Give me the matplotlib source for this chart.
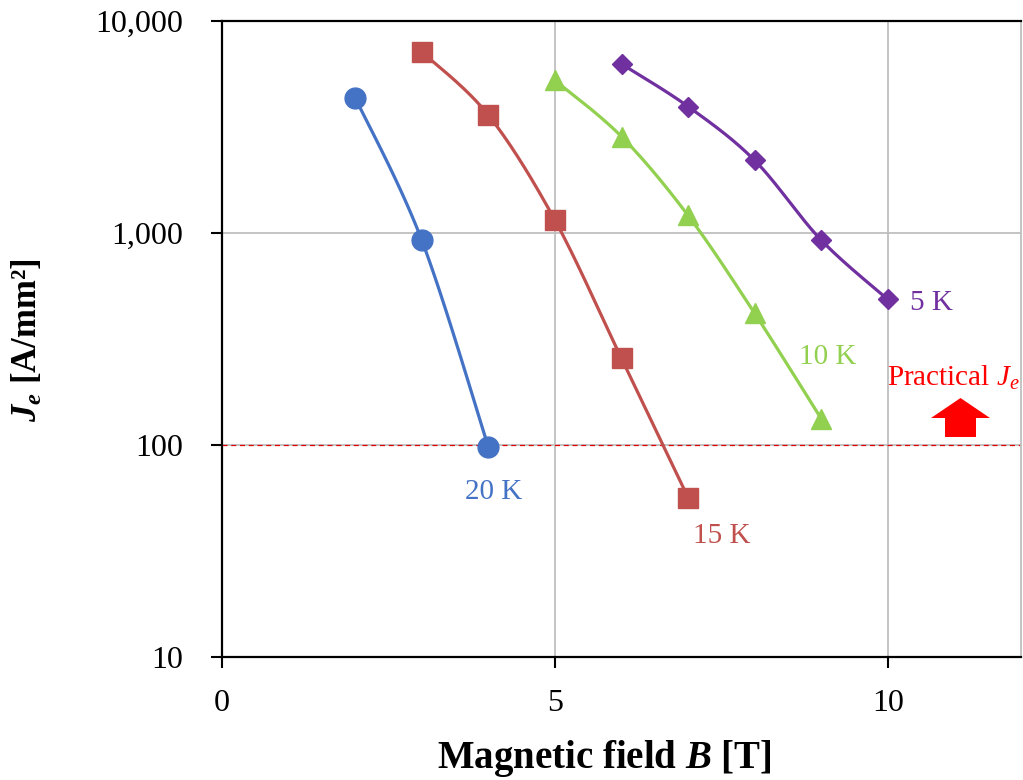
import numpy as np
import matplotlib
matplotlib.use("Agg")
import matplotlib.pyplot as plt
from matplotlib.patches import Polygon
from matplotlib.ticker import FixedLocator, FuncFormatter, NullLocator

plt.rcParams["font.family"] = ["Liberation Serif", "DejaVu Serif"]
plt.rcParams["mathtext.fontset"] = "custom"
plt.rcParams["mathtext.rm"] = "Liberation Serif"
plt.rcParams["mathtext.it"] = "Liberation Serif:italic"
plt.rcParams["mathtext.bf"] = "Liberation Serif:bold"
plt.rcParams["mathtext.bfit"] = "Liberation Serif:bold:italic"

# Engineering current density Je [A/mm^2] versus field B [T]
b_20k = [2, 3, 4]
je_20k = [4350, 925, 98]

b_15k = [3, 4, 5, 6, 7]
je_15k = [7150, 3600, 1150, 256, 56.5]

b_10k = [5, 6, 7, 8, 9]
je_10k = [5250, 2850, 1210, 418, 133]

b_5k = [6, 7, 8, 9, 10]
je_5k = [6270, 3950, 2200, 925, 486]

series_labels = ["20 K", "15 K", "10 K", "5 K"]
practical_je = 100

x_ticks = [0, 5, 10]
y_ticks = [10, 100, 1000, 10000]

BLUE = "#4472C4"
RED = "#C0504D"
GREEN = "#92D050"
PURPLE = "#7030A0"

fig = plt.figure(figsize=(10.23, 7.80), dpi=100)
ax = fig.add_axes([222 / 1023, 1 - 657 / 780, 799 / 1023, 636 / 780])
ax.set_xscale("linear")
ax.set_yscale("log")
ax.set_xlim(0, 12)
ax.set_ylim(10, 10000)

# pixel scale per unit, used so the smoothing behaves like a screen-space spline
SX = 799 / 12.0
SY = 636 / 3.0


def smooth(xs, ys, n=40):
    u = np.asarray(xs, float) * SX
    v = np.log10(np.asarray(ys, float)) * SY
    pts = np.column_stack([u, v])
    out = [pts[0]]
    for i in range(len(pts) - 1):
        p0 = pts[i - 1] if i > 0 else pts[i]
        p1 = pts[i]
        p2 = pts[i + 1]
        p3 = pts[i + 2] if i + 2 < len(pts) else pts[i + 1]
        c1 = p1 + (p2 - p0) / 6.0
        c2 = p2 - (p3 - p1) / 6.0
        t = np.linspace(0, 1, n)[1:, None]
        seg = ((1 - t) ** 3) * p1 + 3 * ((1 - t) ** 2) * t * c1 \
            + 3 * (1 - t) * t ** 2 * c2 + t ** 3 * p2
        out.extend(seg)
    out = np.array(out)
    return out[:, 0] / SX, 10 ** (out[:, 1] / SY)


# grid
for xv in [5, 10]:
    ax.axvline(xv, color="#BFBFBF", lw=1.3, zorder=0)
for yv in [100, 1000]:
    ax.axhline(yv, color="#BFBFBF", lw=1.3, zorder=0)

# practical Je threshold
ax.axhline(practical_je, color="#E00000", lw=0.9, ls=(0, (4, 3)), zorder=1)

series = [
    (b_20k, je_20k, BLUE, "o", 15),
    (b_15k, je_15k, RED, "s", 14),
    (b_10k, je_10k, GREEN, "^", 14),
    (b_5k, je_5k, PURPLE, "D", 10),
]
for xs, ys, col, mk, ms in series:
    sx, sy = smooth(xs, ys)
    ax.plot(sx, sy, color=col, lw=2.3, zorder=3, solid_capstyle="round")
    ax.plot(xs, ys, ls="none", marker=mk, ms=ms, color=col, mec=col, zorder=4)

# series labels
label_pos = [(4.08, 60), (7.5, 37.3), (9.1, 259), (10.65, 466)]
label_cols = [BLUE, RED, GREEN, PURPLE]
for txt, (lx, ly), col in zip(series_labels, label_pos, label_cols):
    ax.text(lx, ly, txt, color=col, fontsize=21, ha="center", va="center")

ax.text(10.98, 208, r"Practical $J_e$", color="#FF0000", fontsize=21,
        ha="center", va="center")

# upward block arrow
def px2x(px):
    return (px - 222) / SX


def py2y(py):
    return 10 ** (4 - (py - 22) / SY)


arrow = [
    (px2x(945), py2y(438)), (px2x(976), py2y(438)), (px2x(976), py2y(419)),
    (px2x(990), py2y(419)), (px2x(960.5), py2y(399)), (px2x(931), py2y(419)),
    (px2x(945), py2y(419)),
]
ax.add_patch(Polygon(arrow, closed=True, facecolor="#FF0000", edgecolor="none", zorder=5))

# axes styling
ax.xaxis.set_major_locator(FixedLocator(x_ticks))
ax.yaxis.set_major_locator(FixedLocator(y_ticks))
ax.xaxis.set_minor_locator(NullLocator())
ax.yaxis.set_minor_locator(NullLocator())
ax.yaxis.set_major_formatter(FuncFormatter(lambda v, p: f"{int(v):,}"))
ax.xaxis.set_major_formatter(FuncFormatter(lambda v, p: f"{int(v)}"))
ax.tick_params(axis="both", direction="out", length=8, width=1.5,
               labelsize=23, colors="black")
ax.tick_params(axis="y", pad=20)
ax.tick_params(axis="x", pad=15)

for side in ["left", "bottom", "top"]:
    ax.spines[side].set_color("black")
    ax.spines[side].set_linewidth(1.6)
ax.spines["right"].set_color("#BFBFBF")
ax.spines["right"].set_linewidth(1.3)

ax.set_xlabel(r"Magnetic field $\mathbfit{B}$ [T]", fontsize=28, fontweight="bold")
ax.set_ylabel(r"$\mathbfit{J}_{\mathbfit{e}}$ [A/mm²]", fontsize=25, fontweight="bold")
ax.xaxis.set_label_coords(0.479, -0.160)
ax.yaxis.set_label_coords(-0.243, 0.498)
ax.xaxis.label.set_va("center")
ax.yaxis.label.set_va("center")

fig.savefig("out.png", dpi=100)
